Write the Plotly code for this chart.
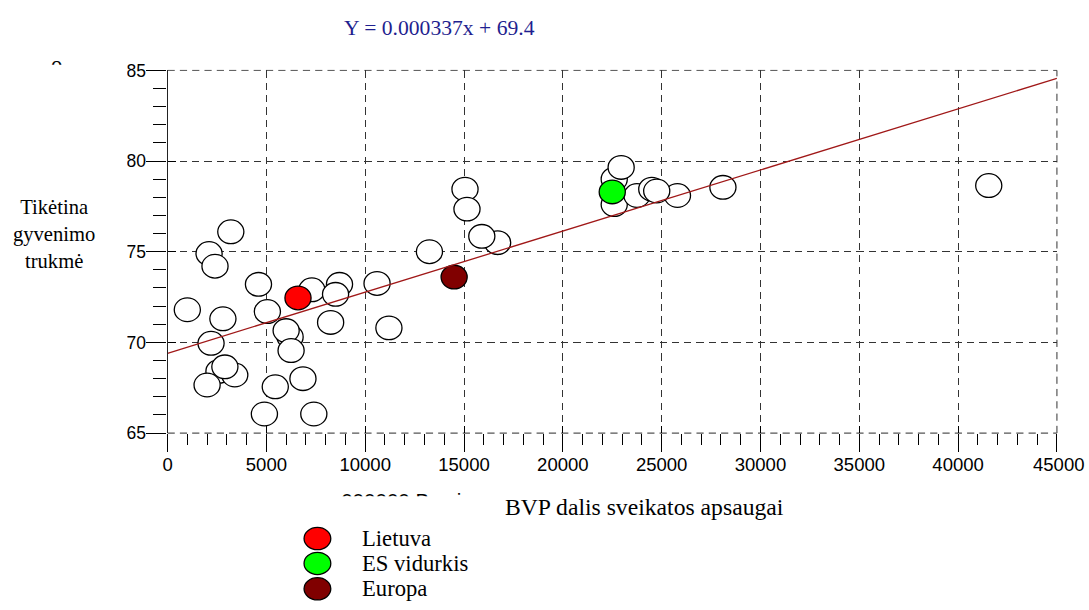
import plotly.graph_objects as go

W, H = 1089, 610
# measured figure-to-picture mapping of the viewer (picture = S * figure + B)
SX, BX = 0.995, 6.0
SY, BY = 0.9717, 5.0
FK = 1.0293          # font size factor
KX, KY = 1 / SX, 1 / SY

# ---------------- data ----------------
# white points (GDP per capita share for health, life expectancy)
country_gdp = [3200, 2100, 2400, 4600, 7300, 8700, 8500, 10600, 1000, 2800,
               5050, 8250, 11200, 2200, 6200, 6000, 6250, 2600, 3400, 2900,
               2000, 5450, 6850, 4900, 7400, 15050, 15150, 16700, 15900, 13250,
               22600, 22950, 22600, 25800, 23750, 24500, 24750, 28100, 41550]
country_life = [76.1, 74.9, 74.2, 73.2, 72.9, 73.2, 72.65, 73.25, 71.8, 71.3,
                71.7, 71.1, 70.8, 69.95, 70.3, 70.65, 69.55, 68.4, 68.2, 68.65,
                67.65, 67.55, 68.0, 66.05, 66.05, 78.45, 77.35, 75.5, 75.85, 75.0,
                79.0, 79.65, 77.6, 78.1, 78.1, 78.45, 78.35, 78.55, 78.65]

highlight_names = ["Lietuva", "ES vidurkis", "Europa"]
highlight_gdp = [6600, 22500, 14500]
highlight_life = [72.45, 78.3, 73.6]
highlight_colors = ["#ff0000", "#00ff00", "#800000"]

slope = 0.000337
intercept = 69.4
line_x = [0, 45000]
line_y = [intercept + slope * v for v in line_x]

x_ticks = [0, 5000, 10000, 15000, 20000, 25000, 30000, 35000, 40000, 45000]
y_ticks = [65, 70, 75, 80, 85]

title_text = "Y = 0.000337x + 69.4"
x_title = "BVP dalis sveikatos apsaugai"
y_title = "Tikėtina<br>gyvenimo<br>trukmė"

# ---------------- helpers (arguments are positions in the 1089x610 picture) ----------------
def fx(px):
    return ((px - BX) / SX) / W

def fy(py):
    return 1 - ((py - BY) / SY) / H

SERIF = "Liberation Serif, Times New Roman, serif"
SANS = "Liberation Sans, Arial, sans-serif"

fig = go.Figure()

# regression line
fig.add_trace(go.Scatter(x=line_x, y=line_y, mode="lines",
                         line=dict(color="#a01818", width=1.3),
                         showlegend=False, hoverinfo="skip"))
# dummy trace on overlay axes (inside parts of the major ticks)
fig.add_trace(go.Scatter(x=[None], y=[None], xaxis="x3", yaxis="y3",
                         showlegend=False, hoverinfo="skip"))
# clipped stray text below the x axis
fig.add_trace(go.Scatter(x=[342], y=[500], xaxis="x4", yaxis="y4", mode="text",
                         text=["000000 Bvp i"], textposition="middle right",
                         textfont=dict(family=SANS, size=20 * FK, color="black"),
                         cliponaxis=True, showlegend=False, hoverinfo="skip"))
# clipped stray glyph at top-left
fig.add_trace(go.Scatter(x=[52], y=[62], xaxis="x5", yaxis="y5", mode="text",
                         text=["o"], textposition="middle right",
                         textfont=dict(family=SERIF, size=22 * FK, color="black"),
                         cliponaxis=True, showlegend=False, hoverinfo="skip"))

shapes = []
RX, RY = 13 * KX, 11.5 * KY
# white ellipses
for xv, yv in zip(country_gdp, country_life):
    shapes.append(dict(type="circle", xref="x", yref="y", xsizemode="pixel",
                       ysizemode="pixel", xanchor=xv, yanchor=yv,
                       x0=-RX, x1=RX, y0=-RY, y1=RY, fillcolor="white",
                       line=dict(color="black", width=1.3), layer="between"))
# highlighted ellipses
for xv, yv, c in zip(highlight_gdp, highlight_life, highlight_colors):
    shapes.append(dict(type="circle", xref="x", yref="y", xsizemode="pixel",
                       ysizemode="pixel", xanchor=xv, yanchor=yv,
                       x0=-RX, x1=RX, y0=-RY, y1=RY, fillcolor=c,
                       line=dict(color="black", width=1.3), layer="between"))

# frame: top and right dashed, bottom dashed
dash_style = "7.2px,5.1px"
shapes.append(dict(type="line", xref="x domain", yref="y domain", x0=0, x1=1, y0=1, y1=1,
                   line=dict(color="#555555", width=1, dash=dash_style), layer="below"))
shapes.append(dict(type="line", xref="x domain", yref="y domain", x0=1, x1=1, y0=0, y1=1,
                   line=dict(color="#333333", width=1, dash=dash_style), layer="below"))
shapes.append(dict(type="line", xref="x domain", yref="y domain", x0=0, x1=1, y0=0, y1=0,
                   line=dict(color="#555555", width=1.2, dash=dash_style), layer="below"))

# white mask clipping the left part of the y tick labels
shapes.append(dict(type="rect", xref="paper", yref="paper",
                   x0=fx(100), x1=fx(128), y0=fy(445), y1=fy(50),
                   fillcolor="white", line=dict(width=0), layer="above"))

# legend ellipses
leg_y = [536, 561, 586.5]
for ly, c in zip(leg_y, highlight_colors):
    shapes.append(dict(type="circle", xref="paper", yref="paper", xsizemode="pixel",
                       ysizemode="pixel", xanchor=fx(318.3), yanchor=fy(ly),
                       x0=-13.3 * KX, x1=13.3 * KX, y0=-10.8 * KY, y1=10.8 * KY,
                       fillcolor=c, line=dict(color="black", width=1.3)))

annotations = []
annotations.append(dict(text=title_text, xref="paper", yref="paper", x=fx(440.5), y=fy(23),
                        xanchor="center", yanchor="middle", showarrow=False,
                        font=dict(family=SERIF, size=21 * FK, color="#1f1f8f")))
annotations.append(dict(text=x_title, xref="paper", yref="paper", x=fx(645), y=fy(504),
                        xanchor="center", yanchor="middle", showarrow=False,
                        font=dict(family=SERIF, size=23 * FK, color="black")))
annotations.append(dict(text=y_title, xref="paper", yref="paper", x=fx(54.5), y=fy(230),
                        xanchor="center", yanchor="middle", showarrow=False, align="center",
                        font=dict(family=SERIF, size=20 * FK, color="black")))
for ly, name in zip(leg_y, highlight_names):
    annotations.append(dict(text=name, xref="paper", yref="paper", x=fx(360.5), y=fy(ly),
                            xanchor="left", yanchor="middle", showarrow=False,
                            font=dict(family=SERIF, size=22 * FK, color="black")))
# last x tick label, kept inside the page
annotations.append(dict(text=str(x_ticks[-1]), xref="paper", yref="paper", x=fx(1060),
                        y=fy(462), xanchor="center", yanchor="middle", showarrow=False,
                        font=dict(family=SANS, size=18 * FK, color="black")))

x_ticktext = [str(v) for v in x_ticks[:-1]] + [""]

grid_color = "#333333"
fig.update_layout(
    width=W, height=H,
    margin=dict(l=0, r=0, t=0, b=0),
    paper_bgcolor="white", plot_bgcolor="white",
    showlegend=False,
    shapes=shapes, annotations=annotations,
    xaxis=dict(domain=[fx(168.5), fx(1057.5)], range=[0, 45000], anchor="y",
               tickvals=x_ticks, ticktext=x_ticktext, ticks="outside", ticklen=17 * KY,
               tickcolor="black", tickwidth=1,
               minor=dict(dtick=1000, ticks="outside", ticklen=11 * KY, tickcolor="black",
                          tickwidth=1, showgrid=False),
               showgrid=True, gridcolor=grid_color, gridwidth=1, griddash=dash_style,
               zeroline=False, showline=False,
               tickfont=dict(family=SANS, size=18 * FK, color="black"),
               ticklabelstandoff=-3),
    yaxis=dict(domain=[fy(430), fy(65.7)], range=[65, 85], anchor="x",
               tickvals=y_ticks, ticks="outside", ticklen=20 * KX,
               tickcolor="black", tickwidth=1,
               minor=dict(dtick=1, ticks="outside", ticklen=13 * KX, tickcolor="black",
                          tickwidth=1, showgrid=False),
               showgrid=True, gridcolor=grid_color, gridwidth=1, griddash=dash_style,
               zeroline=False, showline=True, linecolor="#222222", linewidth=1.2,
               tickfont=dict(family=SANS, size=17 * FK, color="black"),
               ticklabelstandoff=-3),
    xaxis3=dict(overlaying="x", anchor="y", range=[0, 45000], tickvals=x_ticks,
                ticks="inside", ticklen=7 * KY, tickcolor="black", showticklabels=False,
                showgrid=False, zeroline=False, showline=False),
    yaxis3=dict(overlaying="y", anchor="x", side="left", range=[65, 85], tickvals=y_ticks,
                ticks="inside", ticklen=8 * KX, tickcolor="black", showticklabels=False,
                showgrid=False, zeroline=False, showline=False),
    xaxis4=dict(domain=[0, 1], range=[BX, BX + SX * W], anchor="y4", visible=False),
    yaxis4=dict(domain=[fy(493.5), fy(460)], range=[493.5, 460], anchor="x4", visible=False),
    xaxis5=dict(domain=[0, 1], range=[BX, BX + SX * W], anchor="y5", visible=False),
    yaxis5=dict(domain=[fy(60), fy(40)], range=[60, 40], anchor="x5", visible=False),
)

fig.write_html("out.html")
